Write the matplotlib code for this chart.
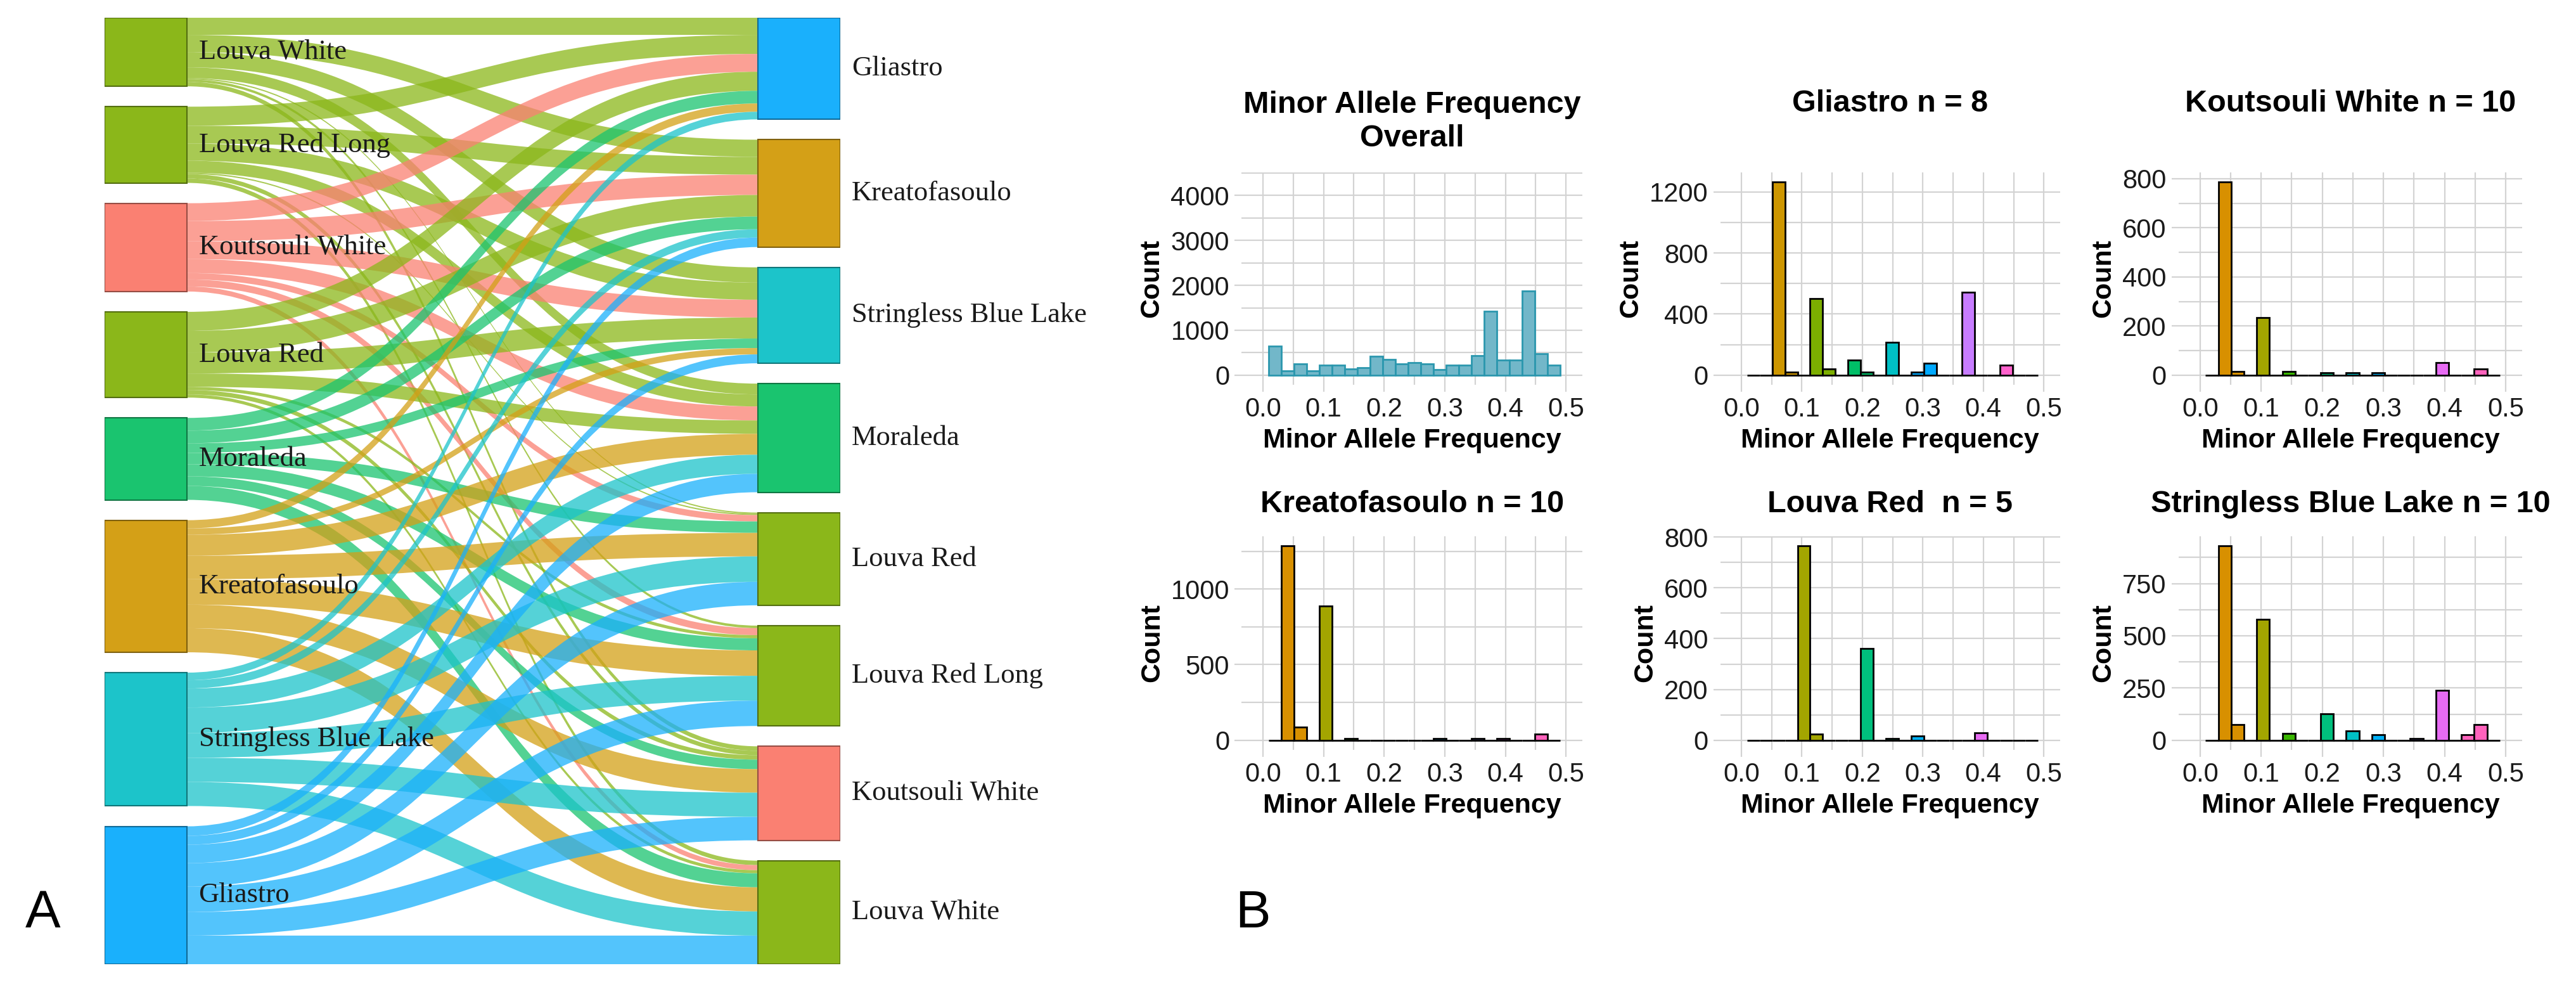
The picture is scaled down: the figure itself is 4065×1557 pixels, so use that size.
import matplotlib
matplotlib.use('Agg')
import matplotlib.pyplot as plt
import numpy as np
from matplotlib.path import Path
from matplotlib.patches import PathPatch, Rectangle
from matplotlib.ticker import MultipleLocator, FormatStrFormatter


FIG_W, FIG_H = 4066, 1557
DPI = 100

# ---------------- Panel A: sankey data ----------------
left_nodes = ['Louva White', 'Louva Red Long', 'Koutsouli White', 'Louva Red',
              'Moraleda', 'Kreatofasoulo', 'Stringless Blue Lake', 'Gliastro']
right_nodes = ['Gliastro', 'Kreatofasoulo', 'Stringless Blue Lake', 'Moraleda',
               'Louva Red', 'Louva Red Long', 'Koutsouli White', 'Louva White']
# rows follow left_nodes, columns follow right_nodes
flow_louva_white = [27, 27, 24, 17, 2, 4, 7, 0]
flow_louva_red_long = [30, 28, 27, 19, 2, 0, 7, 7]
flow_koutsouli_white = [28, 32, 28, 22, 10, 11, 0, 8]
flow_louva_red = [30, 34, 33, 21, 0, 5, 7, 5]
flow_moraleda = [20, 20, 15, 0, 18, 19, 15, 22]
flow_kreatofasoulo = [13, 0, 10, 33, 37, 40, 37, 38]
flow_stringless = [12, 13, 0, 30, 40, 39, 38, 38]
flow_gliastro = [0, 15, 14, 29, 37, 40, 37, 45]

variety_colors = {
    'Louva White': '#8BB71A',
    'Louva Red Long': '#8BB71A',
    'Louva Red': '#8BB71A',
    'Koutsouli White': '#FA8072',
    'Moraleda': '#1AC46F',
    'Kreatofasoulo': '#D4A017',
    'Stringless Blue Lake': '#1CC4CA',
    'Gliastro': '#1AB0FC',
}

# ---------------- Panel B: histogram data ----------------
BIN_START = 0.009
BIN_WIDTH = 0.02093
N_BINS = 23

overall_counts = [651, 93, 256, 93, 223, 223, 140, 172, 419, 344, 251, 279,
                  251, 130, 223, 223, 428, 1419, 335, 335, 1870, 474, 223]
gliastro_counts = [0, 0, 1265, 18, 0, 503, 41, 0, 99, 18, 0, 213,
                   0, 18, 76, 0, 0, 543, 0, 0, 66, 0, 0]
koutsouli_counts = [0, 786, 15, 0, 233, 0, 15, 0, 0, 9, 0, 9,
                    0, 9, 0, 0, 0, 0, 52, 0, 0, 26, 0]
kreatofasoulo_counts = [0, 1285, 86, 0, 889, 0, 11, 0, 0, 0, 0, 0,
                        0, 11, 0, 0, 11, 0, 11, 0, 0, 39, 0]
louva_red_counts = [0, 0, 0, 0, 765, 23, 0, 0, 0, 362, 0, 6,
                    0, 16, 0, 0, 0, 0, 28, 0, 0, 0, 0]
stringless_counts = [0, 930, 75, 0, 578, 0, 33, 0, 0, 128, 0, 46,
                     0, 26, 0, 0, 7, 0, 240, 0, 26, 74, 0]

sample_sizes = {'Gliastro': 8, 'Koutsouli White': 10, 'Kreatofasoulo': 10,
                'Louva Red': 5, 'Stringless Blue Lake': 10}
OVERALL_YMAX = 4300  # y range of the overall panel reaches past its tallest bar

# ggplot hue palettes, one colour per possible MAF level k/(2n)
hue_pal = {
    5: ['#F8766D', '#A3A500', '#00BF7D', '#00B0F6', '#E76BF3'],
    8: ['#F8766D', '#CD9600', '#7CAE00', '#00BE67', '#00BFC4', '#00A9FF', '#C77CFF', '#FF61CC'],
    10: ['#F8766D', '#D89000', '#A3A500', '#39B600', '#00BF7D', '#00BFC4', '#00B0F6',
         '#9590FF', '#E76BF3', '#FF62BC'],
}


def px_box(x0, y0, x1, y1):
    return [x0 / FIG_W, 1 - y1 / FIG_H, (x1 - x0) / FIG_W, (y1 - y0) / FIG_H]


def darker(color, f=0.6):
    r, g, b, _ = matplotlib.colors.to_rgba(color)
    return (r * f, g * f, b * f)


plt.rcParams['font.family'] = ['Liberation Sans', 'DejaVu Sans']
fig = plt.figure(figsize=(FIG_W / DPI, FIG_H / DPI), dpi=DPI)

# ---------------- Sankey ----------------
flows = np.array([flow_louva_white, flow_louva_red_long, flow_koutsouli_white,
                  flow_louva_red, flow_moraleda, flow_kreatofasoulo,
                  flow_stringless, flow_gliastro], dtype=float)
node_pad = 32
out_tot = flows.sum(axis=1)
in_tot = flows.sum(axis=0)
span = max(out_tot.sum(), in_tot.sum()) + node_pad * (len(left_nodes) - 1)

ax_s = fig.add_axes(px_box(165, 28, 1326, 1521))
ax_s.set_xlim(0, 1)
ax_s.set_ylim(span, 0)
ax_s.axis('off')
node_w = 0.112

left_top = np.concatenate([[0], np.cumsum(out_tot + node_pad)[:-1]])
right_top = np.concatenate([[0], np.cumsum(in_tot + node_pad)[:-1]])

xa, xb = node_w, 1 - node_w
xm = (xa + xb) / 2
codes = [Path.MOVETO, Path.CURVE4, Path.CURVE4, Path.CURVE4, Path.LINETO,
         Path.CURVE4, Path.CURVE4, Path.CURVE4, Path.CLOSEPOLY]
for i, src in enumerate(left_nodes):
    for j, tgt in enumerate(right_nodes):
        v = flows[i, j]
        if v <= 0:
            continue
        ya0 = left_top[i] + flows[i, :j].sum()
        ya1 = ya0 + v
        yb0 = right_top[j] + flows[:i, j].sum()
        yb1 = yb0 + v
        verts = [(xa, ya0), (xm, ya0), (xm, yb0), (xb, yb0), (xb, yb1),
                 (xm, yb1), (xm, ya1), (xa, ya1), (xa, ya0)]
        ax_s.add_patch(PathPatch(Path(verts, codes), facecolor=variety_colors[src],
                                 alpha=0.75, edgecolor='none', zorder=1))

for i, name in enumerate(left_nodes):
    c = variety_colors[name]
    ax_s.add_patch(Rectangle((0, left_top[i]), node_w, out_tot[i], facecolor=c,
                             edgecolor=darker(c), linewidth=1.5, zorder=3))
    ax_s.text(node_w + 0.016, left_top[i] + out_tot[i] / 2, name, ha='left', va='center',
              fontsize=32, family='Liberation Serif', color='#1a1a1a', zorder=4)
for j, name in enumerate(right_nodes):
    c = variety_colors[name]
    ax_s.add_patch(Rectangle((1 - node_w, right_top[j]), node_w, in_tot[j], facecolor=c,
                             edgecolor=darker(c), linewidth=1.5, zorder=3))
    ax_s.text(1.0155, right_top[j] + in_tot[j] / 2, name, ha='left', va='center',
              fontsize=32, family='Liberation Serif', color='#1a1a1a', zorder=4,
              clip_on=False)

# ---------------- Histograms ----------------
cols_px = [(1959.5, 2497), (2714.6, 3251), (3438, 3980)]
rows_px = [(272, 607), (846, 1183)]
title_y = [163, 795]
bin_left = BIN_START + BIN_WIDTH * np.arange(N_BINS)
bin_mid = bin_left + BIN_WIDTH / 2


def level_colors(n):
    levels = np.arange(n) / (2 * n)
    idx = np.abs(bin_mid[:, None] - levels[None, :]).argmin(axis=1)
    return [hue_pal[n][k] for k in idx]


def draw_hist(row, col, counts, fills, edge, major, minor, ymax, title, two_line=False):
    x0, x1 = cols_px[col]
    y0, y1 = rows_px[row]
    ax = fig.add_axes(px_box(x0, y0, x1, y1))
    ax.bar(bin_left, counts, width=BIN_WIDTH, align='edge', color=fills,
           edgecolor=edge, linewidth=2.0, zorder=3)
    ax.set_xlim(-0.035, 0.527)
    ax.set_ylim(-0.05 * ymax, 1.05 * ymax)
    ax.xaxis.set_major_locator(MultipleLocator(0.1))
    ax.xaxis.set_minor_locator(MultipleLocator(0.05))
    ax.xaxis.set_major_formatter(FormatStrFormatter('%.1f'))
    ax.yaxis.set_major_locator(MultipleLocator(major))
    ax.yaxis.set_minor_locator(MultipleLocator(minor))
    ax.grid(which='both', color='#D3D3D3', linewidth=1.6)
    ax.set_axisbelow(True)
    for s in ax.spines.values():
        s.set_visible(False)
    ax.tick_params(which='major', length=8, width=1.6, color='#D3D3D3',
                   labelsize=30, pad=6, labelcolor='#1a1a1a')
    ax.tick_params(which='minor', length=0)
    ax.set_xlabel('Minor Allele Frequency', fontsize=31, fontweight='bold', labelpad=6)
    ax.set_ylabel('Count', fontsize=31, fontweight='bold', labelpad=7)
    cx = (x0 + x1) / 2 / FIG_W
    if two_line:
        fig.text(cx, 1 - (title_y[row] + 29) / FIG_H, title, ha='center', va='center',
                 fontsize=35, fontweight='bold', linespacing=1.22)
    else:
        fig.text(cx, 1 - title_y[row] / FIG_H, title, ha='center', va='center',
                 fontsize=35, fontweight='bold')
    return ax


draw_hist(0, 0, overall_counts, '#72B7C9', '#2B97AE', 1000, 500, OVERALL_YMAX,
          'Minor Allele Frequency\nOverall', two_line=True)
draw_hist(0, 1, gliastro_counts, level_colors(sample_sizes['Gliastro']), 'black',
          400, 200, max(gliastro_counts), 'Gliastro n = 8')
draw_hist(0, 2, koutsouli_counts, level_colors(sample_sizes['Koutsouli White']), 'black',
          200, 100, max(koutsouli_counts), 'Koutsouli White n = 10')
draw_hist(1, 0, kreatofasoulo_counts, level_colors(sample_sizes['Kreatofasoulo']), 'black',
          500, 250, max(kreatofasoulo_counts), 'Kreatofasoulo n = 10')
draw_hist(1, 1, louva_red_counts, level_colors(sample_sizes['Louva Red']), 'black',
          200, 100, max(louva_red_counts), 'Louva Red  n = 5')
draw_hist(1, 2, stringless_counts, level_colors(sample_sizes['Stringless Blue Lake']), 'black',
          250, 125, max(stringless_counts), 'Stringless Blue Lake n = 10')

# panel letters
fig.text(40 / FIG_W, 1 - 1463 / FIG_H, 'A', fontsize=60, va='baseline', ha='left')
fig.text(1949 / FIG_W, 1 - 1463 / FIG_H, 'B', fontsize=60, va='baseline', ha='left')

fig.savefig('out.png', dpi=DPI, facecolor='white')
